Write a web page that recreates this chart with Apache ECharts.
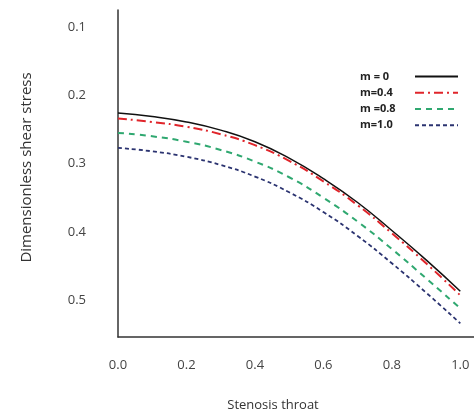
<!DOCTYPE html>
<html>
<head>
<meta charset="utf-8">
<script src="https://cdn.jsdelivr.net/npm/echarts@6/dist/echarts.min.js"></script>
<style>html,body{margin:0;padding:0;background:#fff}#c{width:474px;height:418px}</style>
</head>
<body>
<div id="c"></div>
<script>
var xValues = [0, 0.1, 0.2, 0.3, 0.4, 0.5, 0.6, 0.7, 0.8, 0.9, 1.0];
var m0  = [0.226, 0.231, 0.239, 0.251, 0.268, 0.292, 0.322, 0.357, 0.398, 0.441, 0.487];
var m04 = [0.234, 0.239, 0.246, 0.257, 0.273, 0.296, 0.326, 0.361, 0.402, 0.446, 0.493];
var m08 = [0.255, 0.260, 0.268, 0.280, 0.297, 0.320, 0.350, 0.385, 0.425, 0.468, 0.512];
var m10 = [0.277, 0.282, 0.290, 0.302, 0.319, 0.342, 0.371, 0.406, 0.446, 0.489, 0.534];
var seriesNames = ['m = 0', 'm=0.4', 'm =0.8', 'm=1.0'];
var xTicks = [0, 0.2, 0.4, 0.6, 0.8, 1.0];
var yTicks = [0.1, 0.2, 0.3, 0.4, 0.5];

function pairs(ys) { return xValues.map(function (x, i) { return [x, ys[i]]; }); }

var font = 'Open Sans';
var chart = echarts.init(document.getElementById('c'));
chart.setOption({
  animation: false,
  backgroundColor: '#fff',
  grid: { left: 118, top: 10, right: 0, bottom: 81 },
  legend: {
    orient: 'vertical',
    left: 355,
    top: 66,
    align: 'right',
    itemWidth: 43,
    itemHeight: 14,
    itemGap: 5,
    itemStyle: { opacity: 0 },
    formatter: function (n) { return '{a|' + n + '}'; },
    textStyle: {
      fontFamily: font, fontSize: 11, fontWeight: 'bold', color: '#222',
      rich: { a: { width: 50, align: 'left', fontFamily: font, fontSize: 11, fontWeight: 'bold', color: '#222' } }
    },
    data: seriesNames
  },
  xAxis: {
    type: 'value', min: 0, max: 1.04,
    name: 'Stenosis throat', nameLocation: 'middle', nameGap: 62,
    nameTextStyle: { fontFamily: font, fontSize: 13, color: '#333', padding: [0, 46, 0, 0] },
    axisLine: { show: true, lineStyle: { color: '#333', width: 1.5 } },
    axisTick: { show: false },
    splitLine: { show: false },
    axisLabel: { customValues: xTicks, margin: 22, fontFamily: font, fontSize: 13, color: '#444',
      formatter: function (v) { return v.toFixed(1); } }
  },
  yAxis: {
    type: 'value', inverse: true, min: 0.075, max: 0.554,
    name: 'Dimensionless shear stress', nameLocation: 'middle', nameGap: 84, nameRotate: 90,
    nameTextStyle: { fontFamily: font, fontSize: 15, color: '#333', padding: [0, 0, 0, 12] },
    axisLine: { show: true, lineStyle: { color: '#333', width: 1.5 } },
    axisTick: { show: false },
    splitLine: { show: false },
    axisLabel: { customValues: yTicks, margin: 32, fontFamily: font, fontSize: 13, color: '#444',
      formatter: function (v) { return v.toFixed(1); } }
  },
  series: [
    { name: seriesNames[0], type: 'line', smooth: true, symbol: 'none', data: pairs(m0),
      lineStyle: { color: '#111', width: 1.5, type: 'solid' }, itemStyle: { color: '#111' } },
    { name: seriesNames[1], type: 'line', smooth: true, symbol: 'none', data: pairs(m04),
      lineStyle: { color: '#e0252b', width: 2, type: [9, 4, 2, 4] }, itemStyle: { color: '#e0252b' } },
    { name: seriesNames[2], type: 'line', smooth: true, symbol: 'none', data: pairs(m08),
      lineStyle: { color: '#2fa870', width: 2, type: [6, 5] }, itemStyle: { color: '#2fa870' } },
    { name: seriesNames[3], type: 'line', smooth: true, symbol: 'none', data: pairs(m10),
      lineStyle: { color: '#2b3370', width: 1.8, type: [4, 3] }, itemStyle: { color: '#2b3370' } }
  ]
});
</script>
</body>
</html>
